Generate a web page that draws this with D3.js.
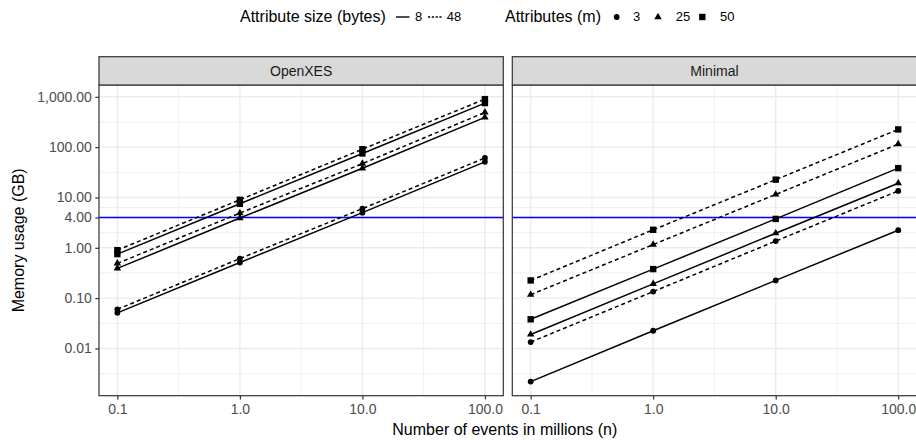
<!DOCTYPE html>
<html><head><meta charset="utf-8">
<script src="https://cdn.jsdelivr.net/npm/d3@7"></script>
<style>body{margin:0;background:#fff} text{font-family:"Liberation Sans",Arial,Helvetica,sans-serif}</style>
</head><body><svg id="c" width="916" height="440"></svg>
<script>
// ---- data ----
const events = [0.1, 1, 10, 100];               // number of events (millions)
const facets = ["OpenXES", "Minimal"];
const attributeSizes = [8, 48];                  // bytes
const attributeCounts = [3, 25, 50];             // m
// OpenXES memory (GB)
const openxes_8_m3   = [0.051, 0.51, 5.0, 51];
const openxes_48_m3  = [0.060, 0.61, 6.0, 61];
const openxes_8_m25  = [0.39, 3.9, 38, 390];
const openxes_48_m25 = [0.49, 4.9, 47, 490];
const openxes_8_m50  = [0.75, 7.5, 75, 750];
const openxes_48_m50 = [0.90, 9.0, 91, 900];
// Minimal memory (GB)
const minimal_8_m3   = [0.0022, 0.0225, 0.225, 2.24];
const minimal_48_m3  = [0.0134, 0.135, 1.36, 13.5];
const minimal_8_m25  = [0.0190, 0.192, 1.95, 19.2];
const minimal_48_m25 = [0.117, 1.16, 11.5, 115];
const minimal_8_m50  = [0.038, 0.378, 3.75, 38.3];
const minimal_48_m50 = [0.225, 2.28, 22.6, 225];
const memoryLimit = 4;
const yTicks = [0.01, 0.1, 1, 4, 10, 100, 1000];
const yTickLabels = ["0.01", "0.10", "1.00", "4.00", "10.00", "100.00", "1,000.00"];
const xTicks = [0.1, 1, 10, 100];
const xTickLabels = ["0.1", "1.0", "10.0", "100.0"];

const seriesTable = {
  "OpenXES": [
    {size: 8, m: 3, v: openxes_8_m3}, {size: 48, m: 3, v: openxes_48_m3},
    {size: 8, m: 25, v: openxes_8_m25}, {size: 48, m: 25, v: openxes_48_m25},
    {size: 8, m: 50, v: openxes_8_m50}, {size: 48, m: 50, v: openxes_48_m50}],
  "Minimal": [
    {size: 8, m: 3, v: minimal_8_m3}, {size: 48, m: 3, v: minimal_48_m3},
    {size: 8, m: 25, v: minimal_8_m25}, {size: 48, m: 25, v: minimal_48_m25},
    {size: 8, m: 50, v: minimal_8_m50}, {size: 48, m: 50, v: minimal_48_m50}]
};

// ---- layout ----
const svg = d3.select("#c");
const plotTop = 85, plotBottom = 395.7, stripTop = 56.7;
const panelX = [[99, 503.3], [512.3, 916.6]];
const TICK = 14, TITLE = 16, LEG = 13;

const allVals = facets.flatMap(f => seriesTable[f].flatMap(s => s.v));
const lyMin = Math.log10(d3.min(allVals)), lyMax = Math.log10(d3.max(allVals));
const yExp = (lyMax - lyMin) * 0.05;
const y = d3.scaleLog().domain([10 ** (lyMin - yExp), 10 ** (lyMax + yExp)]).range([plotBottom, plotTop]);
const lxMin = Math.log10(d3.min(events)), lxMax = Math.log10(d3.max(events));
const xExp = (lxMax - lxMin) * 0.05;

// minor breaks: midpoints between majors in log space
function minorBreaks(ticks, dom) {
  let b = ticks.map(Math.log10);
  const bd = b[1] - b[0];
  const ld = dom.map(Math.log10);
  if (ld[0] < b[0]) b = [b[0] - bd, ...b];
  if (ld[1] > b[b.length - 1]) b = [...b, b[b.length - 1] + bd];
  const out = [];
  for (let i = 0; i < b.length - 1; i++) out.push((b[i] + b[i + 1]) / 2);
  return out.filter(v => v > ld[0] && v < ld[1]).map(v => 10 ** v);
}
const yMinor = minorBreaks(yTicks, y.domain());

const dashFor = s => s === 48 ? "4,3" : null;

function drawShape(g, m, cx, cy) {
  if (m === 3) g.append("circle").attr("cx", cx).attr("cy", cy).attr("r", 2.9).attr("fill", "#000");
  else if (m === 25) {
    const r = 4.3, xc = r * Math.sqrt(3) / 2, yc = r / 2;
    g.append("path").attr("d", `M${cx},${cy - r}L${cx + xc},${cy + yc}L${cx - xc},${cy + yc}Z`).attr("fill", "#000");
  } else g.append("rect").attr("x", cx - 3.2).attr("y", cy - 3.2).attr("width", 6.4).attr("height", 6.4).attr("fill", "#000");
}

facets.forEach((f, i) => {
  const [x0, x1] = panelX[i];
  const x = d3.scaleLog().domain([10 ** (lxMin - xExp), 10 ** (lxMax + xExp)]).range([x0, x1]);
  const xMinor = minorBreaks(xTicks, x.domain());
  const g = svg.append("g");
  g.append("rect").attr("x", x0).attr("y", plotTop).attr("width", x1 - x0).attr("height", plotBottom - plotTop).attr("fill", "#fff");
  // minor grid
  g.selectAll(null).data(yMinor).join("line").attr("x1", x0).attr("x2", x1).attr("y1", d => y(d)).attr("y2", d => y(d))
    .attr("stroke", "#ebebeb").attr("stroke-width", 0.75);
  g.selectAll(null).data(xMinor).join("line").attr("y1", plotTop).attr("y2", plotBottom).attr("x1", d => x(d)).attr("x2", d => x(d))
    .attr("stroke", "#ebebeb").attr("stroke-width", 0.75);
  // major grid
  g.selectAll(null).data(yTicks).join("line").attr("x1", x0).attr("x2", x1).attr("y1", d => y(d)).attr("y2", d => y(d))
    .attr("stroke", "#ebebeb").attr("stroke-width", 1.4);
  g.selectAll(null).data(xTicks).join("line").attr("y1", plotTop).attr("y2", plotBottom).attr("x1", d => x(d)).attr("x2", d => x(d))
    .attr("stroke", "#ebebeb").attr("stroke-width", 1.4);
  // memory limit
  g.append("line").attr("x1", x0).attr("x2", x1).attr("y1", y(memoryLimit)).attr("y2", y(memoryLimit))
    .attr("stroke", "#0000ff").attr("stroke-width", 1.3);
  // series
  const line = d3.line().x((d, k) => x(events[k])).y(d => y(d));
  seriesTable[f].forEach(s => {
    g.append("path").attr("d", line(s.v)).attr("fill", "none").attr("stroke", "#000").attr("stroke-width", 1.5)
      .attr("stroke-dasharray", dashFor(s.size));
  });
  seriesTable[f].forEach(s => s.v.forEach((v, k) => drawShape(g, s.m, x(events[k]), y(v))));
  // border
  g.append("rect").attr("x", x0).attr("y", plotTop).attr("width", x1 - x0).attr("height", plotBottom - plotTop)
    .attr("fill", "none").attr("stroke", "#333").attr("stroke-width", 1.2);
  // strip
  g.append("rect").attr("x", x0).attr("y", stripTop).attr("width", x1 - x0).attr("height", plotTop - stripTop)
    .attr("fill", "#d9d9d9").attr("stroke", "#333").attr("stroke-width", 1.2);
  g.append("text").attr("x", (x0 + x1) / 2).attr("y", (stripTop + plotTop) / 2 + 5.2).attr("text-anchor", "middle")
    .attr("font-size", TICK).attr("fill", "#1a1a1a").text(f);
  // x axis
  const xa = g.append("g").attr("transform", `translate(0,${plotBottom})`)
    .call(d3.axisBottom(x).tickValues(xTicks).tickFormat((d, k) => xTickLabels[k]).tickSizeInner(3.7).tickSizeOuter(0).tickPadding(4.5));
  xa.select(".domain").remove();
  xa.selectAll("line").attr("stroke", "#333").attr("stroke-width", 1.2);
  xa.selectAll("text").attr("font-size", TICK).attr("fill", "#4d4d4d").attr("font-family", '"Liberation Sans",Arial,sans-serif');
  if (i === 0) {
    const ya = g.append("g").attr("transform", `translate(${x0},0)`)
      .call(d3.axisLeft(y).tickValues(yTicks).tickFormat((d, k) => yTickLabels[k]).tickSizeInner(3.7).tickSizeOuter(0).tickPadding(3.5));
    ya.select(".domain").remove();
    ya.selectAll("line").attr("stroke", "#333").attr("stroke-width", 1.2);
    ya.selectAll("text").attr("font-size", TICK).attr("fill", "#4d4d4d").attr("font-family", '"Liberation Sans",Arial,sans-serif');
  }
});

// axis titles
svg.append("text").attr("x", (panelX[0][0] + panelX[1][1]) / 2 - 3).attr("y", 435).attr("text-anchor", "middle")
  .attr("font-size", TITLE).attr("fill", "#000").text("Number of events in millions (n)");
svg.append("text").attr("transform", `translate(24,${(plotTop + plotBottom) / 2}) rotate(-90)`).attr("text-anchor", "middle")
  .attr("font-size", TITLE).attr("fill", "#000").text("Memory usage (GB)");

// legend
const lg = svg.append("g");
const ly = 17, lbase = 22;
lg.append("text").attr("x", 240).attr("y", lbase).attr("font-size", TITLE).text("Attribute size (bytes)");
const sizeKeyX = [396, 428];
const sizeLabX = [415, 446.7];
attributeSizes.forEach((s, k) => {
  lg.append("line").attr("x1", sizeKeyX[k]).attr("x2", sizeKeyX[k] + 13.5).attr("y1", ly).attr("y2", ly)
    .attr("stroke", "#000").attr("stroke-width", 1.4).attr("stroke-dasharray", s === 48 ? "2.2,1.6" : null);
  lg.append("text").attr("x", sizeLabX[k]).attr("y", lbase - 1).attr("font-size", LEG).text(s);
});
lg.append("text").attr("x", 505).attr("y", lbase).attr("font-size", TITLE).text("Attributes (m)");
const mKeyX = [616.7, 658, 702.3];
const mLabX = [633, 675.7, 720];
attributeCounts.forEach((m, k) => {
  drawShape(lg, m, mKeyX[k], ly);
  lg.append("text").attr("x", mLabX[k]).attr("y", lbase - 1).attr("font-size", LEG).text(m);
});
</script></body></html>
